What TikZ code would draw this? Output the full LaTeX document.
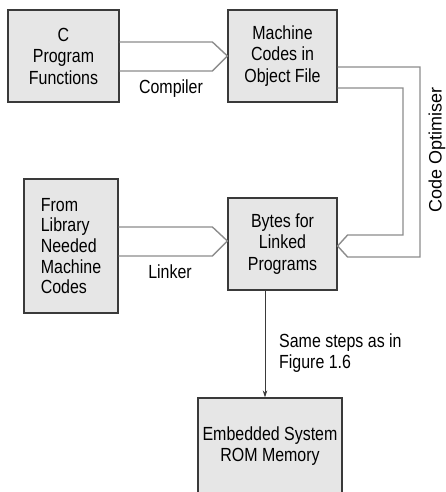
\documentclass[tikz,border=0pt]{standalone}
\usepackage{fontspec}
\setmainfont{Liberation Sans}[FakeStretch=0.84]
\newfontfamily\rotfont{Liberation Sans}
\usetikzlibrary{calc,arrows.meta}
\definecolor{boxfill}{HTML}{E6E6E6}
\definecolor{boxline}{HTML}{3A3A3A}
\definecolor{fatline}{HTML}{8C8C8C}
\tikzset{
  blk/.style={draw=boxline, line width=1.2pt, fill=boxfill, align=center, inner sep=0pt,
    font=\fontsize{19}{21.5}\selectfont},
  lbl/.style={inner sep=0pt, font=\fontsize{19}{21}\selectfont},
  fat/.style={draw=fatline, line width=1.4pt, line join=miter},
  thin/.style={draw=boxline, line width=1pt, -{Stealth[length=7pt,width=4.5pt]}}
}
\begin{document}
\begin{tikzpicture}[x=1pt,y=-1pt]
\useasboundingbox (0,0) rectangle (445,492);
\clip (0,0) rectangle (445,492);
% boxes
\node[blk, minimum width=111pt, minimum height=92pt] (b1) at (63.5,56) {C\\Program\\Functions};
\node[blk, minimum width=109pt, minimum height=92pt] (b2) at (282.5,56) {Machine\\Codes in\\Object File};
\node[blk, minimum width=94pt, minimum height=134pt, align=left, font=\fontsize{19}{20.7}\selectfont] (b3) at (71,246) {From\\Library\\Needed\\Machine\\Codes};
\node[blk, minimum width=109pt, minimum height=92pt] (b4) at (282.5,244) {Bytes for\\Linked\\Programs};
\node[blk, minimum width=144pt, minimum height=96pt] (b5) at (270,446) {Embedded System\\ROM Memory};
% compiler arrow
\coordinate (t1) at ($(b2.west)+(0,0)$);
\coordinate (c1t) at ($(t1)+(-15,-14)$);
\coordinate (c1b) at ($(t1)+(-15,15)$);
\draw[fat] (b1.east |- c1t) -- (c1t) -- (t1) -- (c1b) -- (b1.east |- c1b);
\node[lbl] (comp) at (171,89) {Compiler};
% linker arrow
\coordinate (t2) at ($(b4.west)+(0,-3)$);
\coordinate (c2t) at ($(t2)+(-15,-14)$);
\coordinate (c2b) at ($(t2)+(-15,15)$);
\draw[fat] (b3.east |- c2t) -- (c2t) -- (t2) -- (c2b) -- (b3.east |- c2b);
\node[lbl] (link) at (170,272) {Linker};
% code optimiser arrow
\coordinate (t3) at ($(b4.east)+(0,2)$);
\coordinate (c3t) at ($(t3)+(10,-11)$);
\coordinate (c3b) at ($(t3)+(10,11)$);
\coordinate (o1) at ($(b2.east)+(0,11)$);
\coordinate (i1) at ($(b2.east)+(0,32)$);
\coordinate (ox) at (420,0);
\coordinate (ix) at (403,0);
\draw[fat] (o1) -- (ox |- o1) -- (ox |- c3b) -- (c3b) -- (t3) -- (c3t) -- (ix |- c3t) -- (ix |- i1) -- (i1);
\node[lbl, rotate=90, font=\rotfont\fontsize{18}{21}\selectfont] (opt) at (437,150) {Code Optimiser};
% down arrow
\coordinate (ax) at (265,0);
\draw[thin] (b4.south -| ax) -- (b5.north -| ax);
\node[lbl, align=left, anchor=north west] (same) at (279,334) {Same steps as in\\Figure 1.6};
\end{tikzpicture}
\end{document}
